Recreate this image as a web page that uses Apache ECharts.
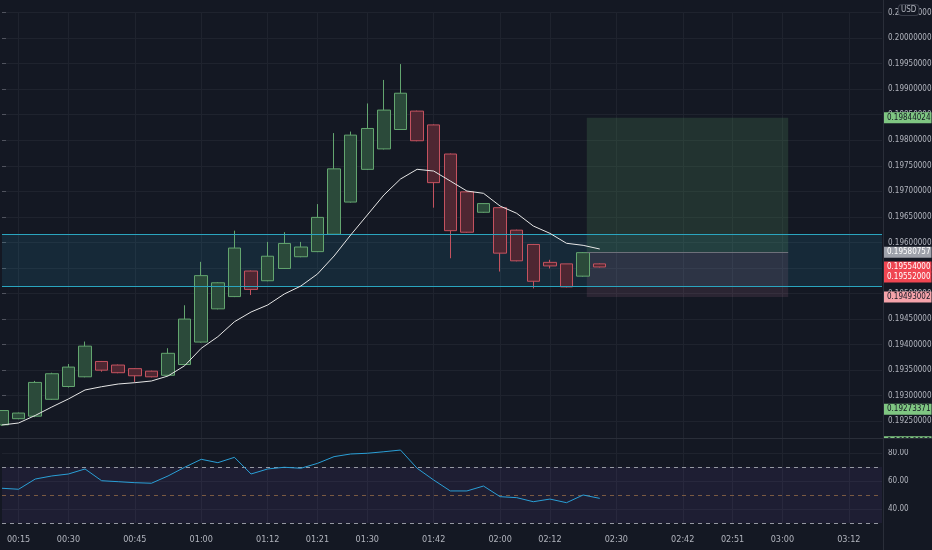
<!DOCTYPE html>
<html><head><meta charset="utf-8">
<script src="https://cdn.jsdelivr.net/npm/echarts@6/dist/echarts.min.js"></script>
<style>html,body{margin:0;padding:0;background:#141823;}#c{width:932px;height:550px;}</style>
</head><body><div id="c"></div>
<script>
// ---- data ----
const opens  = [0.19243,0.19255,0.19260,0.19293,0.19318,0.19337,0.19367,0.19360,0.19353,0.19348,0.19340,0.19361,0.19405,0.19470,0.19494,0.19544,0.19525,0.19549,0.19572,0.19582,0.19616,0.19679,0.19743,0.19783,0.19821,0.19857,0.19830,0.19773,0.19699,0.19659,0.19668,0.19624,0.19596,0.19561,0.19558,0.19534,0.19558];
const closes = [0.19271,0.19266,0.19326,0.19343,0.19356,0.19397,0.19350,0.19345,0.19339,0.19337,0.19383,0.19450,0.19535,0.19521,0.19589,0.19508,0.19573,0.19598,0.19591,0.19649,0.19744,0.19810,0.19823,0.19859,0.19892,0.19799,0.19717,0.19623,0.19620,0.19676,0.19579,0.19564,0.19524,0.19554,0.19513,0.19580,0.19552];
const lows   = [0.19241,0.19254,0.19258,0.19292,0.19316,0.19336,0.19347,0.19344,0.19327,0.19336,0.19339,0.19360,0.19404,0.19469,0.19493,0.19497,0.19524,0.19548,0.19571,0.19581,0.19615,0.19678,0.19742,0.19782,0.19820,0.19798,0.19668,0.19569,0.19619,0.19658,0.19543,0.19563,0.19510,0.19549,0.19512,0.19533,0.19551];
const highs  = [0.19272,0.19267,0.19329,0.19345,0.19362,0.19406,0.19368,0.19361,0.19354,0.19349,0.19393,0.19477,0.19562,0.19522,0.19623,0.19545,0.19601,0.19620,0.19601,0.19675,0.19814,0.19817,0.19872,0.19918,0.19949,0.19858,0.19831,0.19774,0.19700,0.19677,0.19669,0.19625,0.19597,0.19566,0.19558,0.19581,0.19559];
const maValues = [0.192427,0.192466,0.192613,0.192779,0.192936,0.193112,0.193176,0.193229,0.193255,0.193288,0.193386,0.193587,0.193928,0.194155,0.194448,0.194638,0.194775,0.194990,0.195147,0.195382,0.195734,0.196145,0.196536,0.196928,0.197241,0.197431,0.197397,0.197202,0.197006,0.196961,0.196712,0.196570,0.196321,0.196178,0.195983,0.195943,0.195871];
const rsiValues = [54.8,54.1,61.4,63.6,65.0,68.6,60.2,59.5,58.8,58.4,63.6,69.8,75.5,73.1,76.9,65.0,68.6,69.8,69.1,72.6,77.4,79.3,79.8,80.9,82.1,69.1,60.7,52.9,52.9,56.4,48.8,48.1,45.2,47.1,44.5,50.0,47.6];
const timeTickIndex  = [1,4,8,12,16,19,22,26,30,33,37,41,44,47,51];
const timeTickLabels = ['00:15','00:30','00:45','01:00','01:12','01:21','01:30','01:42','02:00','02:12','02:30','02:42','02:51','03:00','03:12'];
const slotCount = 54;
const supportZone = [0.196159, 0.195141];
const positionSpan = [35.22, 47.35];
const positionLevels = [0.19844024, 0.19580757, 0.19493002]; // target, entry, stop
const badgeValues = [0.19844024, 0.19580757, 0.19554000, 0.19552000, 0.19493002, 0.19273371, 0.19210000];
const badgeBg     = ['#7fc682','#9fa2ab','#f04652','#f04652','#f5a3aa','#7fc682','#7fc682'];
const badgeFg     = ['#131722','#ffffff','#ffffff','#ffffff','#131722','#131722','#131722'];
const badgeShift  = [0,0,1,10,0,0,0];
const rsiLevels = [70, 50, 30];

// ---- chart ----
const FONT = "'Liberation Sans Narrow','DejaVu Sans Condensed','Roboto Condensed',Roboto,sans-serif";
const TXT = '#b2b5be';
const GRIDC = '#1f232e';
const categories = Array.from({length: slotCount}, (_, i) => String(i));
const candleData = opens.map((o, i) => [o, closes[i], lows[i], highs[i]]);
const tickSet = new Set(timeTickIndex);

const chart = echarts.init(document.getElementById('c'));
chart.setOption({
  backgroundColor: '#141823',
  animation: false,
  textStyle: { fontFamily: FONT },
  grid: [
    { left: 2, right: 50, top: 12.5, height: 434.3, containLabel: false, outerBoundsMode: 'none' },
    { left: 2, right: 50, top: 440, bottom: 27, containLabel: false, outerBoundsMode: 'none' }
  ],
  xAxis: [
    { type: 'category', gridIndex: 0, data: categories, boundaryGap: false,
      axisLine: { show: false }, axisTick: { show: false }, axisLabel: { show: false },
      splitLine: { show: true, interval: (i) => tickSet.has(i), lineStyle: { color: GRIDC } } },
    { type: 'value', gridIndex: 0, min: 0, max: slotCount - 1, show: false },
    { type: 'category', gridIndex: 1, data: categories, boundaryGap: false,
      axisLine: { show: false }, axisTick: { show: false },
      axisLabel: { interval: (i) => tickSet.has(i), color: TXT, fontSize: 9, fontFamily: FONT, margin: 12,
        formatter: (v) => { const k = timeTickIndex.indexOf(Number(v)); return k >= 0 ? timeTickLabels[k] : ''; } },
      splitLine: { show: true, interval: (i) => tickSet.has(i), lineStyle: { color: GRIDC } } }
  ],
  yAxis: [
    { type: 'value', gridIndex: 0, position: 'right', min: 0.192, max: 0.2005, interval: 0.0005,
      axisLine: { show: false }, axisTick: { show: true, length: 4, lineStyle: { color: '#50535e' } },
      axisLabel: { color: TXT, fontSize: 8, fontFamily: FONT, margin: 6, showMinLabel: false,
        formatter: (v) => v.toFixed(8) },
      splitLine: { show: true, showMinLine: false, lineStyle: { color: GRIDC } } },
    { type: 'value', gridIndex: 1, position: 'right', min: 30, max: 89.2857, interval: 10,
      axisLine: { show: false }, axisTick: { show: false },
      axisLabel: { color: TXT, fontSize: 8, fontFamily: FONT, margin: 6, showMaxLabel: false,
        formatter: (v) => { const r = Math.round(v); return (r === 40 || r === 60 || r === 80) ? r.toFixed(2) : ''; } },
      splitLine: { show: true, lineStyle: { color: ['transparent', GRIDC, 'transparent', GRIDC, 'transparent', GRIDC, 'transparent'] } } }
  ],
  series: [
    { type: 'candlestick', xAxisIndex: 0, yAxisIndex: 0, data: candleData, barWidth: 13, z: 4,
      itemStyle: { color: '#2b4a3a', color0: '#4e2732', borderColor: '#63a56f', borderColor0: '#c4525f', borderWidth: 1 } },
    { type: 'line', xAxisIndex: 0, yAxisIndex: 0, data: maValues, symbol: 'none', z: 5,
      lineStyle: { color: '#e6e6e6', width: 1 },
      markArea: { silent: true, itemStyle: { color: 'rgba(38,166,200,0.13)' },
        data: [[{ yAxis: supportZone[0] }, { yAxis: supportZone[1] }]] },
      markLine: { silent: true, precision: 8, symbol: ['none', 'none'], label: { show: false },
        lineStyle: { color: '#2aa5bf', width: 1, type: 'solid' },
        data: [{ yAxis: supportZone[0] }, { yAxis: supportZone[1] }] } },
    { type: 'line', xAxisIndex: 1, yAxisIndex: 0, data: [[positionSpan[0], positionLevels[1]]], symbol: 'none',
      lineStyle: { opacity: 0 }, z: 3,
      markArea: { silent: true, data: [
        [{ coord: [positionSpan[0], positionLevels[0]], itemStyle: { color: 'rgba(90,160,100,0.2)' } }, { coord: [positionSpan[1], positionLevels[1]] }],
        [{ coord: [positionSpan[0], positionLevels[1]], itemStyle: { color: 'rgba(200,130,160,0.13)' } }, { coord: [positionSpan[1], positionLevels[2]] }]
      ] },
      markLine: { silent: true, precision: 8, symbol: ['none', 'none'], label: { show: false },
        lineStyle: { color: '#6d707a', width: 1, type: 'solid' },
        data: [[{ coord: [positionSpan[0], positionLevels[1]] }, { coord: [positionSpan[1], positionLevels[1]] }]] } },
    { type: 'line', xAxisIndex: 0, yAxisIndex: 0, data: maValues, symbol: 'none', z: 6,
      lineStyle: { color: 'rgba(0,0,0,0)', width: 0 },
      markLine: { silent: true, precision: 8, symbol: ['none', 'none'],
        lineStyle: { color: 'rgba(0,0,0,0)', width: 0, type: 'solid' },
        label: { show: true, position: 'end', distance: 1, fontSize: 8, fontFamily: FONT, padding: [2, 1, 1, 4],
          formatter: (p) => Number(p.value).toFixed(8) },
        data: badgeValues.map((v, i) => ({ yAxis: v,
          label: { backgroundColor: badgeBg[i], color: badgeFg[i], offset: [0, badgeShift[i]] } })) } },
    { type: 'line', xAxisIndex: 2, yAxisIndex: 1, data: rsiValues, symbol: 'none', z: 5,
      lineStyle: { color: '#2a9fd6', width: 1 },
      markArea: { silent: true, itemStyle: { color: 'rgba(126,87,194,0.1)' },
        data: [[{ yAxis: rsiLevels[0] }, { yAxis: rsiLevels[2] }]] },
      markLine: { silent: true, symbol: ['none', 'none'], label: { show: false },
        data: [
          { yAxis: rsiLevels[0], lineStyle: { color: '#9598a1', type: [4, 4], width: 1 } },
          { yAxis: rsiLevels[1], lineStyle: { color: '#7a5a42', type: [4, 4], width: 1 } },
          { yAxis: rsiLevels[2], lineStyle: { color: '#9598a1', type: [4, 4], width: 1 } }
        ] } }
  ],
  graphic: [
    { type: 'rect', z: 100, shape: { x: 884, y: 439, width: 48, height: 10 }, style: { fill: '#141823' } },
    { type: 'line', z: 101, shape: { x1: 883.5, y1: 0, x2: 883.5, y2: 550 }, style: { stroke: '#2a2e39', lineWidth: 1 } },
    { type: 'line', z: 101, shape: { x1: 0, y1: 438.5, x2: 932, y2: 438.5 }, style: { stroke: '#2a2e39', lineWidth: 1 } },
    { type: 'text', z: 102, x: 899, y: 5, style: { text: 'USD', fill: '#b2b5be', fontSize: 8, fontFamily: FONT,
      backgroundColor: '#141823', borderColor: '#3a3e4a', borderWidth: 1, borderRadius: 3, padding: [1, 2] } }
  ]
});
</script>
</body></html>
